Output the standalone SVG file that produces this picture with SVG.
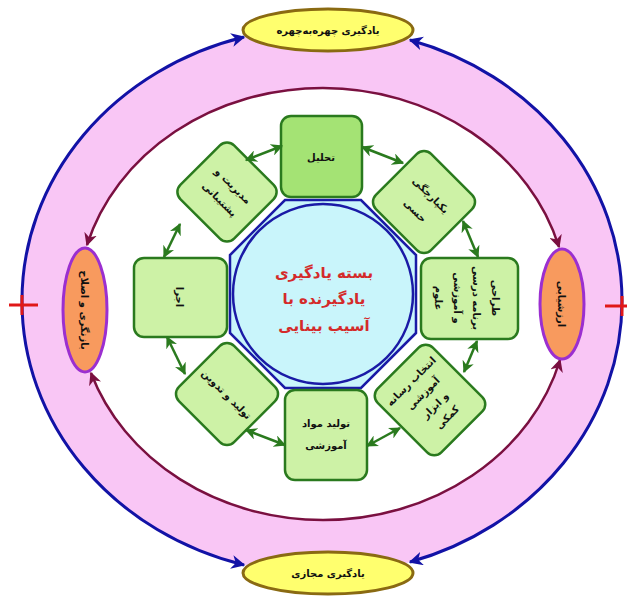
<svg xmlns="http://www.w3.org/2000/svg" width="627" height="599" viewBox="0 0 627 599">
<defs>
<style>
.box{fill:#cdf2a6;stroke:#2a7a1e;stroke-width:2.5}
.boxd{fill:#a4e374;stroke:#2a7a1e;stroke-width:2.5}
.t{font-family:"DejaVu Sans",sans-serif;font-weight:bold;font-size:10px;fill:#111;text-anchor:middle}
.ct{font-family:"DejaVu Sans",sans-serif;font-weight:bold;font-size:15px;fill:#d42a2a;text-anchor:middle}
.g{stroke:#2a7a1e;stroke-width:2.5;fill:none;marker-start:url(#ga);marker-end:url(#ga)}
.b{stroke:#1212a6;stroke-width:3;fill:none;marker-end:url(#ba)}
.m{stroke:#7a1040;stroke-width:2.5;fill:none;marker-end:url(#ma)}
.ye{fill:#ffff6e;stroke:#8a6a12;stroke-width:3}
.or{fill:#f89a5e;stroke:#9b2fd0;stroke-width:3}
</style>
<marker id="ga" markerUnits="userSpaceOnUse" markerWidth="12" markerHeight="12" viewBox="0 0 10 10" refX="9" refY="5" orient="auto-start-reverse"><path d="M0 0 L10 5 L0 10 L3 5 z" fill="#2a7a1e"/></marker>
<marker id="ba" markerUnits="userSpaceOnUse" markerWidth="14" markerHeight="14" viewBox="0 0 10 10" refX="9" refY="5" orient="auto"><path d="M0 0 L10 5 L0 10 L3 5 z" fill="#1212a6"/></marker>
<marker id="ma" markerUnits="userSpaceOnUse" markerWidth="13" markerHeight="13" viewBox="0 0 10 10" refX="9" refY="5" orient="auto"><path d="M0 0 L10 5 L0 10 L3 5 z" fill="#7a1040"/></marker>
</defs>
<rect width="627" height="599" fill="#ffffff"/>
<g id="rings">
<ellipse cx="322" cy="301" rx="300" ry="273" fill="#f9c6f5"/>
<ellipse cx="323" cy="304" rx="245" ry="216" fill="#ffffff"/>
</g>
<g id="connectors">
<path class="b" d="M22 301 A300 273 0 0 1 244 37"/>
<path class="b" d="M22 301 A300 273 0 0 0 244 565"/>
<path class="b" d="M622 301 A300 273 0 0 0 410 40"/>
<path class="b" d="M622 301 A300 273 0 0 1 410 562"/>
<path class="m" d="M323 88 A245 216 0 0 0 87 245"/>
<path class="m" d="M323 88 A245 216 0 0 1 559 247"/>
<path class="m" d="M323 520 A245 216 0 0 1 91 373"/>
<path class="m" d="M323 520 A245 216 0 0 0 560 360"/>
</g>
<g id="plus">
<line x1="9" y1="305" x2="38" y2="305" stroke="#e01818" stroke-width="3"/>
<line x1="22" y1="295" x2="22" y2="315" stroke="#e01818" stroke-width="3"/>
<line x1="605" y1="306" x2="627" y2="306" stroke="#e01818" stroke-width="3"/>
<line x1="622" y1="296" x2="622" y2="316" stroke="#e01818" stroke-width="3"/>
</g>
<g id="n-top-ellipse"><ellipse class="ye" cx="328" cy="30" rx="85" ry="21"/><text class="t" x="328" y="34" font-size="10">یادگیری چهره‌به‌چهره</text></g>
<g id="n-bottom-ellipse"><ellipse class="ye" cx="328" cy="573" rx="85" ry="21"/><text class="t" x="328" y="577">یادگیری مجازی</text></g>
<g id="n-left-ellipse"><ellipse class="or" cx="85" cy="310" rx="22" ry="62"/><text class="t" transform="translate(85 310) rotate(90)" y="4">بازنگری و اصلاح</text></g>
<g id="n-right-ellipse"><ellipse class="or" cx="562" cy="304" rx="22" ry="55"/><text class="t" transform="translate(562 304) rotate(90)" y="4">ارزشیابی</text></g>
<g id="n-center">
<polygon points="416,333 361,388 285,388 230,333 230,255 285,200 361,200 416,255" fill="#c9f5fb" stroke="#1a1aa6" stroke-width="2.5"/>
<circle cx="323" cy="294" r="90" fill="#c9f5fb" stroke="#1a1aa6" stroke-width="2.5"/>
<text class="ct" x="324" y="278">بسته یادگیری</text>
<text class="ct" x="324" y="304">یادگیرنده با</text>
<text class="ct" x="324" y="331">آسیب بینایی</text>
</g>
<g id="n-top"><rect class="boxd" x="281" y="116" width="81" height="81" rx="10"/><text class="t" x="321" y="161" font-size="11">تحلیل</text></g>
<g id="n-topright" transform="translate(424 202) rotate(45)"><rect class="box" x="-39" y="-39" width="78" height="78" rx="10"/><text class="t" y="-6">یکپارچگی</text><text class="t" y="16">حسی</text></g>
<g id="n-right"><rect class="box" x="421" y="258" width="97" height="81" rx="10"/><g transform="translate(466 298) rotate(90)"><text class="t" y="-26" font-size="9.5">طراحی</text><text class="t" y="-7" font-size="9.5">برنامه درسی</text><text class="t" y="12" font-size="9.5">و آموزشی</text><text class="t" y="31" font-size="9.5">علوم</text></g></g>
<g id="n-bottomright" transform="translate(430 400) rotate(-45)"><rect class="box" x="-39" y="-45" width="78" height="90" rx="10"/><text class="t" y="-23" font-size="9">انتخاب رسانه</text><text class="t" y="-6" font-size="9">آموزشی</text><text class="t" y="11" font-size="9">و ابزار</text><text class="t" y="28" font-size="9">کمکی</text></g>
<g id="n-bottom"><rect class="box" x="285" y="390" width="82" height="90" rx="10"/><text class="t" x="326" y="427">تولید مواد</text><text class="t" x="326" y="449">آموزشی</text></g>
<g id="n-bottomleft" transform="translate(227 394) rotate(45)"><rect class="box" x="-39" y="-39" width="78" height="78" rx="10"/><text class="t" y="4">تولید و تدوین</text></g>
<g id="n-left"><rect class="box" x="134" y="258" width="93" height="79" rx="10"/><text class="t" transform="translate(180 297) rotate(90)" y="4">اجرا</text></g>
<g id="n-topleft" transform="translate(227 192) rotate(45)"><rect class="box" x="-38" y="-38" width="76" height="76" rx="10"/><text class="t" y="-5">مدیریت و</text><text class="t" y="14">پشتیبانی</text></g>
<g id="box-connectors">
<line class="g" x1="246" y1="160" x2="282" y2="146"/>
<line class="g" x1="362" y1="147" x2="403" y2="163"/>
<line class="g" x1="463" y1="221" x2="478" y2="257"/>
<line class="g" x1="477" y1="341" x2="464" y2="372"/>
<line class="g" x1="400" y1="428" x2="367" y2="446"/>
<line class="g" x1="246" y1="430" x2="285" y2="445"/>
<line class="g" x1="167" y1="337" x2="185" y2="374"/>
<line class="g" x1="164" y1="257" x2="180" y2="224"/>
</g>
</svg>
